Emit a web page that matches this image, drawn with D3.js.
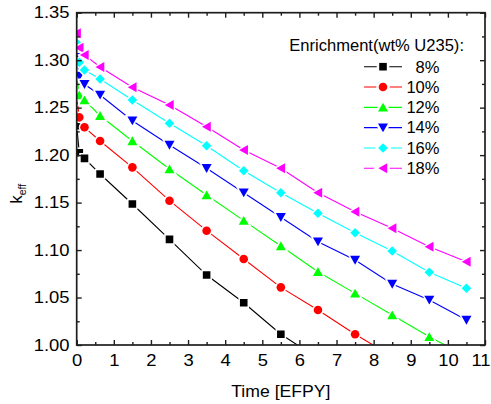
<!DOCTYPE html>
<html>
<head>
<meta charset="utf-8">
<script src="https://cdn.jsdelivr.net/npm/d3@7"></script>
<style>
  html, body { margin: 0; padding: 0; background: #fff; }
  svg { display: block; }
  text { font-family: "Liberation Sans", Arial, sans-serif; fill: #000; }
</style>
</head>
<body>
<div id="chart"></div>
<script>
// Burnup time points [EFPY]
const times = [0, 0.07, 0.21, 0.63, 1.5, 2.5, 3.5, 4.5, 5.5, 6.5, 7.5, 8.5, 9.5, 10.5];

// k_eff per enrichment
const k8  = [1.231, 1.2025, 1.1966, 1.1801, 1.1485, 1.1113, 1.0737, 1.0445, 1.0113, 0.986];
const k10 = [1.262, 1.2398, 1.2293, 1.2149, 1.1871, 1.1520, 1.1204, 1.0906, 1.0607, 1.0368, 1.0113, 0.988];
const k12 = [1.284, 1.2633, 1.2580, 1.2415, 1.2149, 1.1854, 1.1580, 1.1310, 1.1043, 1.0772, 1.0544, 1.0316, 1.0087, 0.988];
const k14 = [1.303, 1.2833, 1.2746, 1.2633, 1.2362, 1.2106, 1.1861, 1.1604, 1.1345, 1.1088, 1.0895, 1.0642, 1.0474, 1.0263];
const k16 = [1.318, 1.2977, 1.2896, 1.2802, 1.2580, 1.2335, 1.2099, 1.1836, 1.1604, 1.1387, 1.1183, 1.0990, 1.0766, 1.0597];
const k18 = [1.3283, 1.3131, 1.3055, 1.2928, 1.2714, 1.2528, 1.2299, 1.2054, 1.1861, 1.1604, 1.1404, 1.1229, 1.1035, 1.0877];

const seriesNames = ["8%", "10%", "12%", "14%", "16%", "18%"];
const seriesValues = [k8, k10, k12, k14, k16, k18];
const seriesColors = ["#000000", "#ff0000", "#00ff00", "#0000ff", "#00ffff", "#ff00ff"];
const seriesShapes = ["square", "circle", "triUp", "triDown", "diamond", "triLeft"];

const xTicks = d3.range(0, 12, 1);
const xMinor = d3.range(0.5, 11, 1);
const yTicks = [1.00, 1.05, 1.10, 1.15, 1.20, 1.25, 1.30, 1.35];
const yMinor = [1.025, 1.075, 1.125, 1.175, 1.225, 1.275, 1.325];

const legendTitle = "Enrichment(wt% U235):";
const xLabel = "Time [EFPY]";

const W = 491, H = 404;
const plot = { left: 76.7, right: 485, top: 12.7, bottom: 345 };

const svg = d3.select("#chart").append("svg")
  .attr("width", W).attr("height", H);

const x = d3.scaleLinear().domain([0, 11]).range([plot.left, plot.right]);
const y = d3.scaleLinear().domain([1.0, 1.35]).range([plot.bottom, plot.top]);

// Marker path builders (centred at 0,0)
function markerPath(shape) {
  const p = d3.path();
  if (shape === "square") {
    const s = 3.8;
    p.rect(-s, -s, 2 * s, 2 * s);
  } else if (shape === "circle") {
    p.arc(0, 0, 4.3, 0, 2 * Math.PI);
  } else if (shape === "triUp") {
    p.moveTo(0, -4.6); p.lineTo(5, 4.2); p.lineTo(-5, 4.2); p.closePath();
  } else if (shape === "triDown") {
    p.moveTo(0, 4.6); p.lineTo(5, -4.2); p.lineTo(-5, -4.2); p.closePath();
  } else if (shape === "diamond") {
    const r = 4.8;
    p.moveTo(0, -r); p.lineTo(r, 0); p.lineTo(0, r); p.lineTo(-r, 0); p.closePath();
  } else if (shape === "triLeft") {
    p.moveTo(-4.6, 0); p.lineTo(4.2, -5); p.lineTo(4.2, 5); p.closePath();
  }
  return p.toString();
}

// Clip region for the data
svg.append("defs").append("clipPath").attr("id", "plotClip")
  .append("rect")
  .attr("x", plot.left).attr("y", plot.top)
  .attr("width", plot.right - plot.left).attr("height", plot.bottom - plot.top);

const dataG = svg.append("g").attr("clip-path", "url(#plotClip)");

const line = d3.line().x(d => x(d[0])).y(d => y(d[1]));

seriesValues.forEach((vals, i) => {
  const pts = vals.map((v, j) => [times[j], v]);
  dataG.append("path")
    .attr("d", line(pts))
    .attr("fill", "none")
    .attr("stroke", seriesColors[i])
    .attr("stroke-width", 1.1);
});

seriesValues.forEach((vals, i) => {
  const pts = vals.map((v, j) => [times[j], v]);
  dataG.selectAll(null).data(pts).enter().append("path")
    .attr("d", markerPath(seriesShapes[i]))
    .attr("transform", d => `translate(${x(d[0])},${y(d[1])})`)
    .attr("fill", seriesColors[i])
    .attr("stroke", "#fff")
    .attr("stroke-width", 3)
    .attr("paint-order", "stroke");
});

// Frame
const axisColor = "#1e1e1e";
svg.append("rect")
  .attr("x", plot.left).attr("y", plot.top)
  .attr("width", plot.right - plot.left).attr("height", plot.bottom - plot.top)
  .attr("fill", "none").attr("stroke", axisColor).attr("stroke-width", 1.7);

function styleAxis(g) {
  g.select(".domain").remove();
  g.selectAll(".tick line").attr("stroke", axisColor).attr("stroke-width", 1.4);
  g.attr("font-family", null).attr("font-size", null);
}

const labelScale = 1.13;

// Bottom axis: major ticks with labels, minor ticks without
const xAxis = svg.append("g").attr("transform", `translate(0,${plot.bottom})`)
  .call(d3.axisBottom(x).tickValues(xTicks).tickSize(-5).tickSizeOuter(0).tickPadding(9).tickFormat(d3.format("d")));
styleAxis(xAxis);
xAxis.selectAll(".tick text").attr("font-size", 16.3).attr("transform", `scale(${labelScale},1)`);
// the last label sits against the right edge of the page, so end-anchor it there
xAxis.selectAll(".tick text").filter(d => d === 11)
  .attr("text-anchor", "end")
  .attr("x", (W - 1 - x(11)) / labelScale);
svg.append("g").attr("transform", `translate(0,${plot.bottom})`)
  .call(d3.axisBottom(x).tickValues(xMinor).tickSize(-3).tickSizeOuter(0).tickFormat(""))
  .call(styleAxis);

// Top axis (mirror ticks)
svg.append("g").attr("transform", `translate(0,${plot.top})`)
  .call(d3.axisTop(x).tickValues(xTicks).tickSize(-5).tickSizeOuter(0).tickFormat(""))
  .call(styleAxis);
svg.append("g").attr("transform", `translate(0,${plot.top})`)
  .call(d3.axisTop(x).tickValues(xMinor).tickSize(-3).tickSizeOuter(0).tickFormat(""))
  .call(styleAxis);

// Left axis
const yAxis = svg.append("g").attr("transform", `translate(${plot.left},0)`)
  .call(d3.axisLeft(y).tickValues(yTicks).tickSize(-5).tickSizeOuter(0).tickPadding(6.4).tickFormat(d3.format(".2f")));
styleAxis(yAxis);
yAxis.selectAll(".tick text").attr("font-size", 16.3).attr("transform", `scale(${labelScale},1)`);
svg.append("g").attr("transform", `translate(${plot.left},0)`)
  .call(d3.axisLeft(y).tickValues(yMinor).tickSize(-3).tickSizeOuter(0).tickFormat(""))
  .call(styleAxis);

// Right axis (mirror ticks)
svg.append("g").attr("transform", `translate(${plot.right},0)`)
  .call(d3.axisRight(y).tickValues(yTicks).tickSize(-5).tickSizeOuter(0).tickFormat(""))
  .call(styleAxis);
svg.append("g").attr("transform", `translate(${plot.right},0)`)
  .call(d3.axisRight(y).tickValues(yMinor).tickSize(-3).tickSizeOuter(0).tickFormat(""))
  .call(styleAxis);

// Axis titles
svg.append("text")
  .attr("transform", `translate(${(plot.left + plot.right) / 2},397) scale(1.07,1)`)
  .attr("text-anchor", "middle")
  .attr("font-size", 16.5)
  .text(xLabel);

const yTitle = svg.append("text")
  .attr("transform", "translate(21.7,203.5) rotate(-90)")
  .attr("text-anchor", "start")
  .attr("font-size", 16.3);
yTitle.append("tspan").text("k");
yTitle.append("tspan").attr("font-size", 10.5).attr("dy", 4).text("eff");

// Legend
const legend = svg.append("g");
legend.append("text")
  .attr("transform", "translate(289.3,50.7) scale(1.035,1)")
  .attr("font-size", 16)
  .text(legendTitle);

const rowY = d3.scaleLinear().domain([0, 5]).range([66.7, 168.3]);
seriesNames.forEach((name, i) => {
  const cy = rowY(i);
  legend.append("line")
    .attr("x1", 364).attr("x2", 402).attr("y1", cy).attr("y2", cy)
    .attr("stroke", seriesColors[i]).attr("stroke-width", 1.1);
  legend.append("path")
    .attr("d", markerPath(seriesShapes[i]))
    .attr("transform", `translate(383,${cy})`)
    .attr("fill", seriesColors[i])
    .attr("stroke", "#fff").attr("stroke-width", 5)
    .attr("paint-order", "stroke");
  legend.append("text")
    .attr("transform", `translate(439.5,${cy + 5.8}) scale(1.035,1)`)
    .attr("text-anchor", "end")
    .attr("font-size", 16)
    .text(name);
});
</script>
</body>
</html>
